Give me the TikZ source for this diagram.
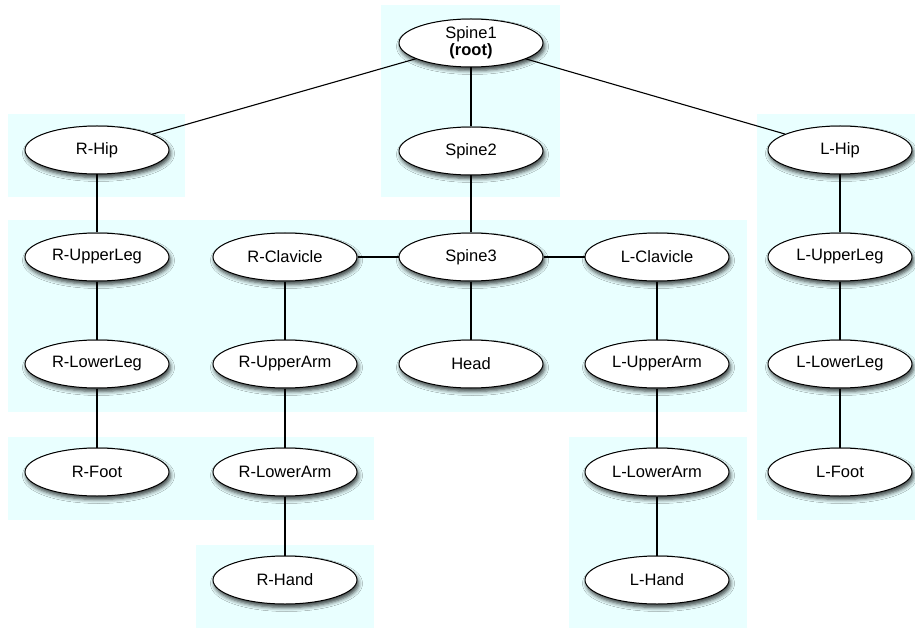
\documentclass[tikz,border=0pt]{standalone}
\usepackage{fontspec}
\setmainfont{Liberation Sans}
\usetikzlibrary{shapes.geometric,shadows.blur}
\definecolor{regionbg}{RGB}{233,255,255}
\tikzset{% common styles of skeleton picture elements
  joint/.style  = {shape=ellipse, draw, fill=white, line width=1pt,
                   minimum width=144pt, minimum height=48pt, inner sep=0pt,
                   align=center, font=\fontsize{16.5}{17}\selectfont,
                   blur shadow={shadow xshift=1.5pt, shadow yshift=-3.5pt,
                                shadow blur radius=4pt, shadow opacity=75}},
  root/.style   = {joint},
  region/.style = {fill=regionbg, draw=none},
  bone/.style   = {draw, line width=1.1pt},
}
\begin{document}
\begin{tikzpicture}[x=1pt, y=-1pt]
  \useasboundingbox (0,0) rectangle (915,628);
  % light background groups
  \fill[region] (381,5)   rectangle (560,197);
  \fill[region] (8,114)   rectangle (185,197);
  \fill[region] (8,220)   rectangle (747,412);
  \fill[region] (8,437)   rectangle (374,520);
  \fill[region] (196,545) rectangle (374,628);
  \fill[region] (569,437) rectangle (747,628);
  \fill[region] (757,114) rectangle (915,520);
  % joints
  \node [root]  (spine1) at (471,43)  {Spine1\\\textbf{(root)}};
  \node [joint] (spine2) at (471,151) {Spine2};
  \node [joint] (rhip)   at (97,150)  {R-Hip};
  \node [joint] (lhip)   at (840,150) {L-Hip};
  \node [joint] (rupleg) at (97,257)  {R-UpperLeg};
  \node [joint] (rclav)  at (285,257) {R-Clavicle};
  \node [joint] (spine3) at (471,257) {Spine3};
  \node [joint] (lclav)  at (657,257) {L-Clavicle};
  \node [joint] (lupleg) at (840,257) {L-UpperLeg};
  \node [joint] (rlowleg) at (97,364)  {R-LowerLeg};
  \node [joint] (ruparm)  at (285,364) {R-UpperArm};
  \node [joint] (head)    at (471,364) {Head};
  \node [joint] (luparm)  at (657,364) {L-UpperArm};
  \node [joint] (llowleg) at (840,364) {L-LowerLeg};
  \node [joint] (rfoot)   at (97,472)  {R-Foot};
  \node [joint] (rlowarm) at (285,472) {R-LowerArm};
  \node [joint] (llowarm) at (657,472) {L-LowerArm};
  \node [joint] (lfoot)   at (840,472) {L-Foot};
  \node [joint] (rhand)   at (285,580) {R-Hand};
  \node [joint] (lhand)   at (657,580) {L-Hand};
  % bones
  \draw [bone] (spine1) -- (rhip);
  \draw [bone] (spine1) -- (spine2);
  \draw [bone] (spine1) -- (lhip);
  \draw [bone] (spine2) -- (spine3);
  \draw [bone] (rclav) -- (spine3);
  \draw [bone] (spine3) -- (lclav);
  \draw [bone] (spine3) -- (head);
  \draw [bone] (rhip) -- (rupleg) -- (rlowleg) -- (rfoot);
  \draw [bone] (rclav) -- (ruparm) -- (rlowarm) -- (rhand);
  \draw [bone] (lclav) -- (luparm) -- (llowarm) -- (lhand);
  \draw [bone] (lhip) -- (lupleg) -- (llowleg) -- (lfoot);
\end{tikzpicture}
\end{document}
